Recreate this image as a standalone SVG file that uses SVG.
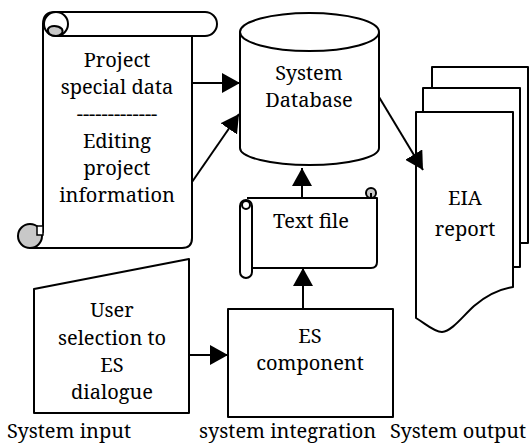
<svg xmlns="http://www.w3.org/2000/svg" width="532" height="446" viewBox="0 0 532 446">
<style>
.s{fill:#fff;stroke:#000;stroke-width:2;stroke-linejoin:round}
.n{fill:none;stroke:#000;stroke-width:2}
.g{fill:#c8c8c8;stroke:#000;stroke-width:2}
text{font-family:'Noto Serif','Liberation Serif',serif;font-size:20px;fill:#000}
.t{text-anchor:middle}
.l{text-anchor:start}
.c{fill:none;stroke:#000;stroke-width:2}
</style>
<defs>
<marker id="ah" markerUnits="userSpaceOnUse" markerWidth="20" markerHeight="20" refX="18" refY="10" orient="auto">
<path d="M0,0 L18,10 L0,20 Z" fill="#000"/>
</marker>
</defs>

<g id="project-scroll">
<path class="s" d="M43,24 Q43,12 55,12 H205 A12,12 0 0 1 205,36 H192 V238 Q192,248 182,248 H30 V232 H43 Z"/>
<path class="n" d="M56,36 H192"/>
<circle class="s" cx="56" cy="24" r="12"/>
<path class="g" d="M56,36 C50,36 47,33 48,29 C50,25 58,25 62,29 C64,33 60,36 56,36 Z"/>
<circle class="g" cx="30" cy="236" r="12"/>
<path d="M37,226 H43 V235 H37 Z" fill="#fff" stroke="#000" stroke-width="1.5"/>
<path class="n" d="M30,248 H43"/>
<text class="t" x="117" y="67">Project</text>
<text class="t" x="117" y="94">special data</text>
<text class="t" x="117" y="121">-------------</text>
<text class="t" x="117" y="148">Editing</text>
<text class="t" x="117" y="175">project</text>
<text class="t" x="117" y="202">information</text>
</g>

<g id="system-database">
<path class="s" d="M240,32 V148 A69.5,17 0 0 0 379,148 V32"/>
<ellipse class="s" cx="309.5" cy="32" rx="69.5" ry="19"/>
<text class="t" x="309" y="80">System</text>
<text class="t" x="309" y="107">Database</text>
</g>

<g id="eia-report">
<rect class="s" x="432" y="67" width="96" height="176"/>
<rect class="s" x="423" y="88" width="97" height="179"/>
<path class="s" d="M416,112 H513 V287 C500,289 488,294 474,306 C462,317 452,331 442,332 C434,332 426,324 416,318 Z"/>
<text class="t" x="465" y="205">EIA</text>
<text class="t" x="465" y="236">report</text>
</g>

<g id="text-file">
<path class="s" d="M247,198 H377 V262 Q377,268 371,268 H252"/>
<rect class="s" x="240" y="200" width="12" height="78" rx="6"/>
<circle class="s" cx="246" cy="205" r="4"/>
<circle class="g" cx="371" cy="193" r="5"/>
<path class="n" d="M366,198 H371 V193"/>
<text class="t" x="311" y="228">Text file</text>
</g>

<g id="user-selection">
<path class="s" d="M34,289 L189,259 V413 H34 Z"/>
<text class="t" x="112" y="317">User</text>
<text class="t" x="112" y="345">selection to</text>
<text class="t" x="112" y="372">ES</text>
<text class="t" x="112" y="399">dialogue</text>
</g>

<g id="es-component">
<rect class="s" x="228" y="309" width="165" height="108"/>
<text class="t" x="310" y="343">ES</text>
<text class="t" x="310" y="370">component</text>
</g>

<g id="labels">
<text class="l" x="7" y="438">System input</text>
<text class="l" x="199" y="438">system integration</text>
<text class="l" x="390" y="438">System output</text>
</g>

<g id="connectors">
<path class="c" d="M192,83 H240" marker-end="url(#ah)"/>
<path class="c" d="M192,182 L239,114" marker-end="url(#ah)"/>
<path class="c" d="M379,97 L423,170" marker-end="url(#ah)"/>
<path class="c" d="M302,198 V168" marker-end="url(#ah)"/>
<path class="c" d="M303,309 V268" marker-end="url(#ah)"/>
<path class="c" d="M189,355 H228" marker-end="url(#ah)"/>
</g>
</svg>
